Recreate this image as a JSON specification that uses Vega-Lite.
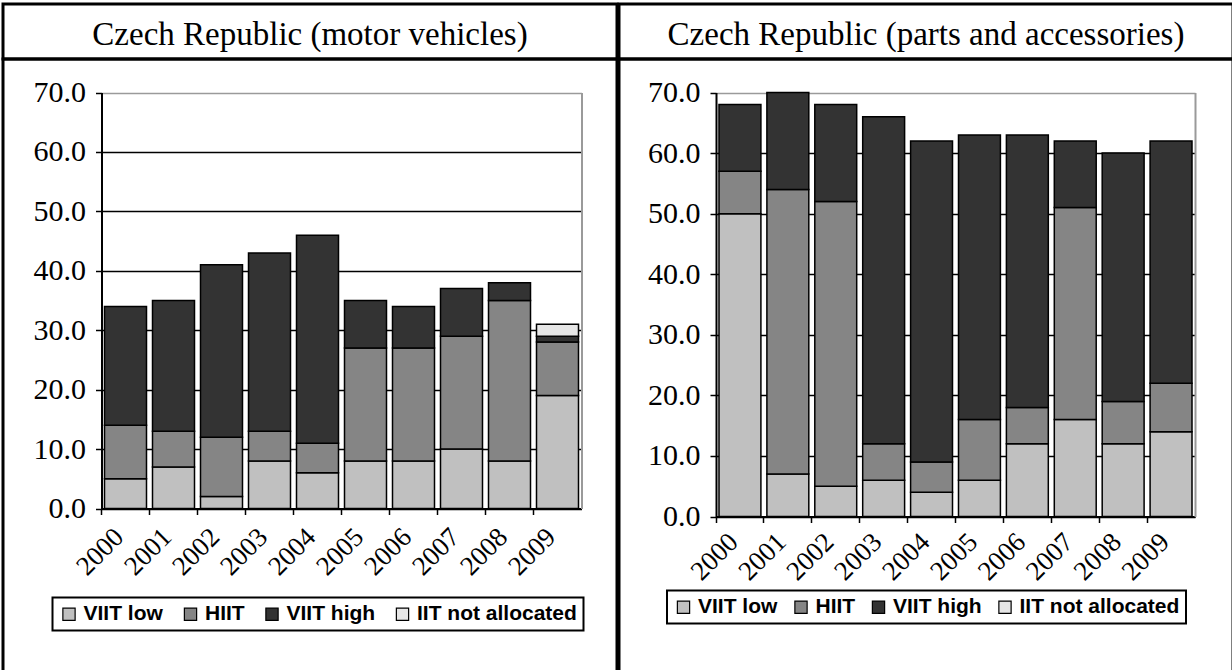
{
  "$schema": "https://vega.github.io/schema/vega-lite/v6.json",
  "padding": {"left": 1, "top": 2, "right": 0, "bottom": 0},
  "background": "white",
  "spacing": -4,
  "config": {
    "axis": {"domainColor": "black", "domainWidth": 2, "tickColor": "black", "tickWidth": 1.5, "labelColor": "black", "labelFont": "Liberation Serif"},
    "legend": {"strokeWidth": 2}
  },
  "datasets": {
    "motor": [
      {"year": "2000", "cat": "VIIT low", "rank": 1, "value": 5}, {"year": "2000", "cat": "HIIT", "rank": 2, "value": 9}, {"year": "2000", "cat": "VIIT high", "rank": 3, "value": 20},
      {"year": "2001", "cat": "VIIT low", "rank": 1, "value": 7}, {"year": "2001", "cat": "HIIT", "rank": 2, "value": 6}, {"year": "2001", "cat": "VIIT high", "rank": 3, "value": 22},
      {"year": "2002", "cat": "VIIT low", "rank": 1, "value": 2}, {"year": "2002", "cat": "HIIT", "rank": 2, "value": 10}, {"year": "2002", "cat": "VIIT high", "rank": 3, "value": 29},
      {"year": "2003", "cat": "VIIT low", "rank": 1, "value": 8}, {"year": "2003", "cat": "HIIT", "rank": 2, "value": 5}, {"year": "2003", "cat": "VIIT high", "rank": 3, "value": 30},
      {"year": "2004", "cat": "VIIT low", "rank": 1, "value": 6}, {"year": "2004", "cat": "HIIT", "rank": 2, "value": 5}, {"year": "2004", "cat": "VIIT high", "rank": 3, "value": 35},
      {"year": "2005", "cat": "VIIT low", "rank": 1, "value": 8}, {"year": "2005", "cat": "HIIT", "rank": 2, "value": 19}, {"year": "2005", "cat": "VIIT high", "rank": 3, "value": 8},
      {"year": "2006", "cat": "VIIT low", "rank": 1, "value": 8}, {"year": "2006", "cat": "HIIT", "rank": 2, "value": 19}, {"year": "2006", "cat": "VIIT high", "rank": 3, "value": 7},
      {"year": "2007", "cat": "VIIT low", "rank": 1, "value": 10}, {"year": "2007", "cat": "HIIT", "rank": 2, "value": 19}, {"year": "2007", "cat": "VIIT high", "rank": 3, "value": 8},
      {"year": "2008", "cat": "VIIT low", "rank": 1, "value": 8}, {"year": "2008", "cat": "HIIT", "rank": 2, "value": 27}, {"year": "2008", "cat": "VIIT high", "rank": 3, "value": 3},
      {"year": "2009", "cat": "VIIT low", "rank": 1, "value": 19}, {"year": "2009", "cat": "HIIT", "rank": 2, "value": 9}, {"year": "2009", "cat": "VIIT high", "rank": 3, "value": 1}, {"year": "2009", "cat": "IIT not allocated", "rank": 4, "value": 2}
    ],
    "parts": [
      {"year": "2000", "cat": "VIIT low", "rank": 1, "value": 50}, {"year": "2000", "cat": "HIIT", "rank": 2, "value": 7}, {"year": "2000", "cat": "VIIT high", "rank": 3, "value": 11},
      {"year": "2001", "cat": "VIIT low", "rank": 1, "value": 7}, {"year": "2001", "cat": "HIIT", "rank": 2, "value": 47}, {"year": "2001", "cat": "VIIT high", "rank": 3, "value": 16},
      {"year": "2002", "cat": "VIIT low", "rank": 1, "value": 5}, {"year": "2002", "cat": "HIIT", "rank": 2, "value": 47}, {"year": "2002", "cat": "VIIT high", "rank": 3, "value": 16},
      {"year": "2003", "cat": "VIIT low", "rank": 1, "value": 6}, {"year": "2003", "cat": "HIIT", "rank": 2, "value": 6}, {"year": "2003", "cat": "VIIT high", "rank": 3, "value": 54},
      {"year": "2004", "cat": "VIIT low", "rank": 1, "value": 4}, {"year": "2004", "cat": "HIIT", "rank": 2, "value": 5}, {"year": "2004", "cat": "VIIT high", "rank": 3, "value": 53},
      {"year": "2005", "cat": "VIIT low", "rank": 1, "value": 6}, {"year": "2005", "cat": "HIIT", "rank": 2, "value": 10}, {"year": "2005", "cat": "VIIT high", "rank": 3, "value": 47},
      {"year": "2006", "cat": "VIIT low", "rank": 1, "value": 12}, {"year": "2006", "cat": "HIIT", "rank": 2, "value": 6}, {"year": "2006", "cat": "VIIT high", "rank": 3, "value": 45},
      {"year": "2007", "cat": "VIIT low", "rank": 1, "value": 16}, {"year": "2007", "cat": "HIIT", "rank": 2, "value": 35}, {"year": "2007", "cat": "VIIT high", "rank": 3, "value": 11},
      {"year": "2008", "cat": "VIIT low", "rank": 1, "value": 12}, {"year": "2008", "cat": "HIIT", "rank": 2, "value": 7}, {"year": "2008", "cat": "VIIT high", "rank": 3, "value": 41},
      {"year": "2009", "cat": "VIIT low", "rank": 1, "value": 14}, {"year": "2009", "cat": "HIIT", "rank": 2, "value": 8}, {"year": "2009", "cat": "VIIT high", "rank": 3, "value": 40}
    ]
  },
  "resolve": {"scale": {"color": "independent", "x": "independent", "y": "independent"}, "legend": {"color": "independent"}},
  "hconcat": [
    {
      "vconcat": [
        {
          "width": 614, "height": 55,
          "view": {"stroke": "black", "strokeWidth": 3},
          "data": {"values": [{"t": "Czech Republic (motor vehicles)"}]},
          "mark": {"type": "text", "font": "Liberation Serif", "fontSize": 33, "color": "black", "dy": 3},
          "encoding": {"text": {"field": "t"}}
        },
        {
          "width": 614, "height": 620,
          "view": {"stroke": "black", "strokeWidth": 3},
          "data": {"name": "motor"},
          "resolve": {"axis": {"y": "independent"}},
          "layer": [
            {
              "mark": {"type": "bar", "stroke": "black", "strokeWidth": 1.5},
              "encoding": {
                "x": {"field": "year", "type": "ordinal",
                  "scale": {"range": [98.5, 578.5], "paddingInner": 0.125, "paddingOuter": 0.0625},
                  "axis": {"orient": "bottom", "offset": -170.5, "title": null, "labelAngle": -45, "labelAlign": "right", "labelBaseline": "middle", "labelFontSize": 27, "labelPadding": 18, "labelOffset": -6, "bandPosition": -0.0714, "tickSize": 6, "grid": false}},
                "y": {"field": "value", "type": "quantitative", "stack": "zero",
                  "scale": {"domain": [0, 70], "range": [449.5, 33.5], "nice": false, "zero": true},
                  "axis": {"orient": "left", "offset": -98.5, "title": null, "values": [0, 10, 20, 30, 40, 50, 60, 70], "format": ".1f", "labelFontSize": 30, "labelPadding": 10, "tickSize": 6, "grid": true, "gridWidth": 1.5, "gridColor": {"condition": {"test": "datum.value >= 70", "value": "#9a9a9a"}, "value": "black"}}},
                "order": {"field": "rank", "type": "quantitative"},
                "color": {"field": "cat", "type": "nominal",
                  "scale": {"domain": ["VIIT low", "HIIT", "VIIT high", "IIT not allocated"], "range": ["#c0c0c0", "#858585", "#333333", "#e6e6e6"]},
                  "legend": {"orient": "none", "legendX": 49.5, "legendY": 538.5, "direction": "horizontal", "columns": 4, "title": null, "strokeColor": "black", "fillColor": "white", "padding": 6, "symbolType": "square", "symbolSize": 150, "symbolStrokeColor": "black", "symbolStrokeWidth": 1.2, "labelFont": "Liberation Sans", "labelFontWeight": "bold", "labelFontSize": 21, "labelColor": "black", "columnPadding": 16.5, "labelOffset": 4}}
              }
            },
            {
              "mark": {"type": "bar", "opacity": 0},
              "encoding": {
                "x": {"field": "year", "type": "ordinal"},
                "y": {"field": "value", "type": "quantitative", "stack": null,
                  "axis": {"orient": "right", "offset": -35.5, "title": null, "labels": false, "ticks": false, "grid": false, "domainColor": "#9a9a9a", "domainWidth": 2}}
              }
            }
          ]
        }
      ],
      "spacing": 0,
      "bounds": "flush",
      "resolve": {"scale": {"color": "independent"}, "legend": {"color": "independent"}}
    },
    {
      "vconcat": [
        {
          "width": 614, "height": 55,
          "view": {"stroke": "black", "strokeWidth": 3},
          "data": {"values": [{"t": "Czech Republic (parts and accessories)"}]},
          "mark": {"type": "text", "font": "Liberation Serif", "fontSize": 33, "color": "black", "dy": 3},
          "encoding": {"text": {"field": "t"}}
        },
        {
          "width": 614, "height": 620,
          "view": {"stroke": "black", "strokeWidth": 3},
          "data": {"name": "parts"},
          "resolve": {"axis": {"y": "independent"}},
          "layer": [
            {
              "mark": {"type": "bar", "stroke": "black", "strokeWidth": 1.5},
              "encoding": {
                "x": {"field": "year", "type": "ordinal",
                  "scale": {"range": [97, 576], "paddingInner": 0.125, "paddingOuter": 0.0625},
                  "axis": {"orient": "bottom", "offset": -162.5, "title": null, "labelAngle": -45, "labelAlign": "right", "labelBaseline": "middle", "labelFontSize": 27, "labelPadding": 15, "labelOffset": -6, "bandPosition": -0.0714, "tickSize": 6, "grid": false}},
                "y": {"field": "value", "type": "quantitative", "stack": "zero",
                  "scale": {"domain": [0, 70], "range": [457.5, 33.5], "nice": false, "zero": true},
                  "axis": {"orient": "left", "offset": -97, "title": null, "values": [0, 10, 20, 30, 40, 50, 60, 70], "format": ".1f", "labelFontSize": 30, "labelPadding": 10, "tickSize": 6, "grid": true, "gridWidth": 1.5, "gridColor": {"condition": {"test": "datum.value >= 70", "value": "#9a9a9a"}, "value": "black"}}},
                "order": {"field": "rank", "type": "quantitative"},
                "color": {"field": "cat", "type": "nominal",
                  "scale": {"domain": ["VIIT low", "HIIT", "VIIT high", "IIT not allocated"], "range": ["#c0c0c0", "#858585", "#333333", "#e6e6e6"]},
                  "legend": {"orient": "none", "legendX": 48, "legendY": 531.5, "direction": "horizontal", "columns": 4, "title": null, "strokeColor": "black", "fillColor": "white", "padding": 6, "symbolType": "square", "symbolSize": 150, "symbolStrokeColor": "black", "symbolStrokeWidth": 1.2, "labelFont": "Liberation Sans", "labelFontWeight": "bold", "labelFontSize": 21, "labelColor": "black", "columnPadding": 12.5, "labelOffset": 4}}
              }
            },
            {
              "mark": {"type": "bar", "opacity": 0},
              "encoding": {
                "x": {"field": "year", "type": "ordinal"},
                "y": {"field": "value", "type": "quantitative", "stack": null,
                  "axis": {"orient": "right", "offset": -38, "title": null, "labels": false, "ticks": false, "grid": false, "domainColor": "#9a9a9a", "domainWidth": 2}}
              }
            }
          ]
        }
      ],
      "spacing": 0,
      "bounds": "flush",
      "resolve": {"scale": {"color": "independent"}, "legend": {"color": "independent"}}
    }
  ]
}
